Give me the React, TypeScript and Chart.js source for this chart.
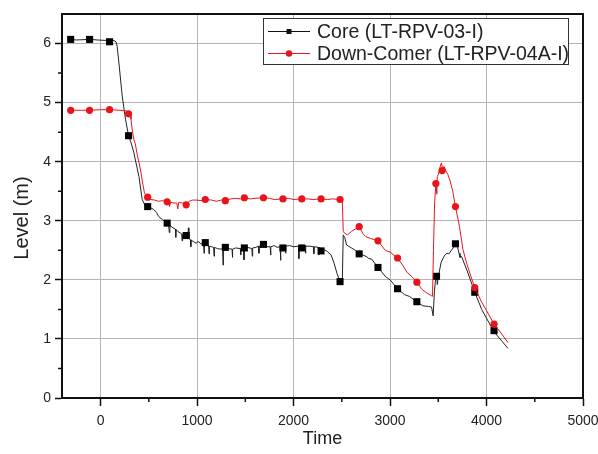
import React, { useEffect, useRef } from 'react';
import { Chart, registerables } from 'chart.js';

Chart.register(...registerables);

// ---------- data ----------
const seriesNames = ['Core (LT-RPV-03-I)', 'Down-Comer (LT-RPV-04A-I)'];
const xTitle = 'Time';
const yTitle = 'Level (m)';

const coreTime = [
  -310, -250, -114, -30, 93, 140, 160, 172, 190, 224, 259, 290, 320, 345, 397, 431, 460, 488, 520, 551, 580, 603, 640, 690,
  705, 712, 718, 750, 775, 779, 783, 800, 840, 845, 850, 887, 905, 910, 915, 931, 935, 940, 970, 990, 1010, 1040,
  1068, 1072, 1076, 1085, 1110, 1120, 1124, 1128, 1150, 1172, 1176, 1180, 1210, 1240, 1265, 1269, 1273, 1293, 1320,
  1362, 1366, 1370, 1400, 1448, 1452, 1456, 1482, 1486, 1490, 1520, 1568, 1572, 1576, 1610, 1637, 1641, 1645, 1688,
  1720, 1758, 1762, 1766, 1800, 1830, 1861, 1865, 1869, 1890, 1913, 1917, 1921, 1960, 2000, 2051, 2055, 2059, 2085,
  2100, 2120, 2124, 2128, 2170, 2206, 2210, 2214, 2258, 2262, 2266, 2285, 2300, 2320, 2350, 2390, 2420, 2450, 2482,
  2505, 2515, 2530, 2550, 2600, 2640, 2680, 2720, 2760, 2780, 2810, 2875, 2950, 3000, 3078, 3150, 3200, 3278, 3340,
  3400, 3430, 3447, 3460, 3475, 3485, 3490, 3500, 3530, 3568, 3590, 3610, 3640, 3660, 3678, 3700, 3715, 3725, 3740,
  3800, 3878, 3950, 4000, 4078, 4150, 4222,
];
const coreLevel = [
  6.07, 6.06, 6.07, 6.06, 6.05, 6.05, 6.03, 5.95, 5.67, 5.11, 4.71, 4.44, 4.30, 4.15, 3.75, 3.36, 3.26, 3.24, 3.22, 3.19, 3.14, 3.07, 3.02, 2.96,
  2.93, 2.80, 2.92, 2.88, 2.86, 2.72, 2.85, 2.82, 2.78, 2.66, 2.77, 2.75, 2.72, 2.88, 2.70, 2.68, 2.56, 2.67, 2.64, 2.62, 2.65, 2.61,
  2.60, 2.45, 2.60, 2.63, 2.58, 2.58, 2.44, 2.57, 2.56, 2.55, 2.40, 2.55, 2.53, 2.52, 2.53, 2.25, 2.53, 2.55, 2.53,
  2.52, 2.38, 2.52, 2.54, 2.53, 2.42, 2.54, 2.52, 2.34, 2.54, 2.55, 2.53, 2.40, 2.54, 2.55, 2.57, 2.45, 2.57, 2.60,
  2.56, 2.56, 2.42, 2.56, 2.58, 2.55, 2.56, 2.33, 2.56, 2.54, 2.57, 2.45, 2.57, 2.58, 2.56, 2.57, 2.36, 2.57, 2.54,
  2.58, 2.58, 2.45, 2.57, 2.57, 2.56, 2.44, 2.56, 2.55, 2.42, 2.55, 2.49, 2.53, 2.51, 2.48, 2.42, 2.28, 2.11, 1.97,
  1.95, 2.76, 2.72, 2.59, 2.54, 2.50, 2.44, 2.42, 2.39, 2.36, 2.35, 2.21, 2.06, 2.00, 1.85, 1.75, 1.72, 1.63, 1.56,
  1.55, 1.54, 1.39, 1.80, 2.07, 2.02, 1.92, 2.05, 2.30, 2.42, 2.45, 2.44, 2.51, 2.55, 2.61, 2.55, 2.45, 2.38, 2.40,
  2.15, 1.79, 1.50, 1.35, 1.12, 0.98, 0.84,
];

const coreMarkTime = [-310, -114, 93, 290, 488, 690, 887, 1085, 1293, 1490, 1688, 1890, 2085, 2285, 2482, 2680, 2875, 3078, 3278, 3482, 3678, 3878, 4078];
const coreMarkLevel = [6.07, 6.07, 6.03, 4.44, 3.24, 2.96, 2.75, 2.63, 2.55, 2.54, 2.60, 2.54, 2.54, 2.49, 1.97, 2.44, 2.21, 1.85, 1.63, 2.06, 2.61, 1.79, 1.14];

const dcTime = [
  -310, -200, -114, 0, 93, 200, 270, 290, 305, 315, 328, 345, 360, 380, 414, 440, 455, 488, 520, 560, 600, 640, 690,
  705, 715, 725, 760, 790, 800, 810, 850, 870, 887, 905, 920, 950, 1000, 1040, 1085, 1150, 1200, 1250, 1293, 1350,
  1400, 1450, 1490, 1550, 1600, 1688, 1750, 1800, 1890, 1950, 2000, 2085, 2150, 2200, 2285, 2350, 2400, 2482, 2505,
  2515, 2530, 2560, 2600, 2640, 2680, 2720, 2750, 2800, 2875, 2950, 3000, 3078, 3130, 3180, 3230, 3278, 3330, 3380,
  3430, 3440, 3450, 3462, 3475, 3485, 3490, 3500, 3520, 3533, 3545, 3560, 3580, 3600, 3620, 3650, 3678, 3720, 3756,
  3800, 3840, 3878, 3950, 4000, 4078, 4150, 4222,
];
const dcLevel = [
  4.87, 4.87, 4.87, 4.88, 4.88, 4.87, 4.86, 4.81, 4.78, 4.72, 4.54, 4.37, 4.30, 4.12, 3.86, 3.60, 3.47, 3.40, 3.36, 3.35, 3.33, 3.34, 3.32,
  3.30, 3.24, 3.31, 3.30, 3.30, 3.20, 3.31, 3.30, 3.29, 3.27, 3.31, 3.33, 3.35, 3.35, 3.34, 3.36, 3.35, 3.33, 3.35, 3.34, 3.37,
  3.38, 3.37, 3.39, 3.37, 3.38, 3.39, 3.38, 3.36, 3.37, 3.38, 3.36, 3.37, 3.37, 3.36, 3.37, 3.36, 3.37, 3.36, 3.36,
  2.82, 2.79, 2.76, 2.82, 2.86, 2.90, 2.78, 2.73, 2.70, 2.66, 2.50, 2.47, 2.37, 2.25, 2.12, 2.05, 1.96, 1.84, 1.78,
  1.73, 1.72, 2.50, 3.30, 3.63, 3.45, 3.75, 3.78, 3.92, 3.98, 3.86, 3.92, 3.84, 3.78, 3.69, 3.50, 3.24, 2.90, 2.51,
  2.25, 2.05, 1.87, 1.62, 1.48, 1.25, 1.10, 0.94,
];

const dcMarkTime = [-310, -114, 93, 290, 488, 690, 887, 1085, 1293, 1490, 1688, 1890, 2085, 2285, 2482, 2680, 2875, 3078, 3278, 3475, 3540, 3678, 3878, 4078];
const dcMarkLevel = [4.87, 4.87, 4.88, 4.81, 3.40, 3.32, 3.27, 3.36, 3.34, 3.39, 3.39, 3.37, 3.37, 3.37, 3.36, 2.90, 2.66, 2.37, 1.96, 3.63, 3.85, 3.24, 1.87, 1.25];

const xTickValues = [0, 1000, 2000, 3000, 4000, 5000];
const yTickValues = [0, 1, 2, 3, 4, 5, 6];
const xMinorTicks = [500, 1500, 2500, 3500, 4500];
const yMinorTicks = [0.5, 1.5, 2.5, 3.5, 4.5, 5.5];

// ---------- styling ----------
const FONT = "'Liberation Sans', Arial, sans-serif";
const BLACK = '#111111';
const RED = '#e8141c';
const TEXT = '#222222';

const zip = (xs: number[], ys: number[]) => xs.map((x, i) => ({ x, y: ys[i] }));

const framePlugin = {
  id: 'frameLegend',
  afterDraw(chart: any) {
    const { ctx, chartArea: a, scales } = chart;
    const x = scales.x;
    const y = scales.y;
    ctx.save();
    // minor ticks
    ctx.strokeStyle = BLACK;
    ctx.lineWidth = 1.5;
    ctx.beginPath();
    for (const v of xMinorTicks) {
      const px = x.getPixelForValue(v);
      ctx.moveTo(px, a.bottom);
      ctx.lineTo(px, a.bottom + 4);
    }
    for (const v of yMinorTicks) {
      const py = y.getPixelForValue(v);
      ctx.moveTo(a.left, py);
      ctx.lineTo(a.left - 4, py);
    }
    ctx.stroke();
    // frame
    ctx.lineWidth = 2;
    ctx.strokeRect(a.left, a.top, a.right - a.left, a.bottom - a.top);

    // y-axis title
    ctx.save();
    ctx.translate(22, (a.top + a.bottom) / 2 + 12);
    ctx.rotate(-Math.PI / 2);
    ctx.fillStyle = TEXT;
    ctx.font = `20px ${FONT}`;
    ctx.textAlign = 'center';
    ctx.textBaseline = 'middle';
    ctx.fillText(yTitle, 0, 0);
    ctx.restore();

    // legend
    const lx = a.right - 320;
    const ly = a.top + 4;
    const lw = 305;
    const lh = 46;
    ctx.fillStyle = '#ffffff';
    ctx.fillRect(lx, ly, lw, lh);
    ctx.strokeStyle = '#333333';
    ctx.lineWidth = 1;
    ctx.strokeRect(lx + 0.5, ly + 0.5, lw, lh);
    const rows = [ly + 13.5, ly + 35.5];
    const colors = [BLACK, RED];
    rows.forEach((ry, i) => {
      ctx.strokeStyle = colors[i];
      ctx.lineWidth = 1;
      ctx.beginPath();
      ctx.moveTo(lx + 5, ry);
      ctx.lineTo(lx + 47, ry);
      ctx.stroke();
      ctx.fillStyle = colors[i];
      if (i === 0) {
        ctx.fillRect(lx + 23.5, ry - 2.5, 5, 5);
      } else {
        ctx.beginPath();
        ctx.arc(lx + 26, ry, 3.2, 0, Math.PI * 2);
        ctx.fill();
      }
      ctx.fillStyle = TEXT;
      ctx.font = `19.5px ${FONT}`;
      ctx.textBaseline = 'middle';
      ctx.textAlign = 'left';
      ctx.fillText(seriesNames[i], lx + 54, ry + 1);
    });
    ctx.restore();
  },
};

export default function App() {
  const canvasRef = useRef<HTMLCanvasElement | null>(null);

  useEffect(() => {
    document.body.style.margin = '0';
    const canvas = canvasRef.current;
    if (!canvas) return;
    const chart = new Chart(canvas, {
      type: 'scatter',
      data: {
        datasets: [
          {
            label: seriesNames[1] + ' markers',
            data: zip(dcMarkTime, dcMarkLevel),
            showLine: false,
            pointStyle: 'circle',
            pointRadius: 3.6,
            pointBackgroundColor: RED,
            pointBorderColor: RED,
            pointBorderWidth: 0,
            order: 1,
          },
          {
            label: seriesNames[1],
            data: zip(dcTime, dcLevel),
            showLine: true,
            borderColor: RED,
            borderWidth: 1,
            pointRadius: 0,
            tension: 0,
            order: 2,
          },
          {
            label: seriesNames[0] + ' markers',
            data: zip(coreMarkTime, coreMarkLevel),
            showLine: false,
            pointStyle: 'rect',
            pointRadius: 5,
            pointBackgroundColor: '#000000',
            pointBorderColor: '#000000',
            pointBorderWidth: 0,
            order: 3,
          },
          {
            label: seriesNames[0],
            data: zip(coreTime, coreLevel),
            showLine: true,
            borderColor: '#222222',
            borderWidth: 1,
            pointRadius: 0,
            tension: 0,
            order: 4,
          },
        ],
      },
      options: {
        animation: false,
        responsive: false,
        devicePixelRatio: 1,
        events: [],
        layout: { padding: { left: 0, right: 15, top: 14, bottom: 0 } },
        plugins: {
          legend: { display: false },
          tooltip: { enabled: false },
        },
        scales: {
          x: {
            type: 'linear',
            min: -400,
            max: 5000,
            afterBuildTicks: (s: any) => {
              s.ticks = xTickValues.map((v) => ({ value: v }));
            },
            afterFit: (s: any) => {
              s.height = 56;
              s.paddingLeft = 0;
              s.paddingRight = 0;
            },
            ticks: {
              color: TEXT,
              font: { family: FONT, size: 14 },
              padding: 7,
              maxRotation: 0,
              autoSkip: false,
              callback: (v: any) => String(v),
            },
            grid: {
              color: '#b4b4b4',
              lineWidth: 1,
              tickColor: BLACK,
              tickLength: 8,
              tickWidth: 1.5,
            },
            border: { display: true, color: BLACK, width: 2 },
            title: {
              display: true,
              text: xTitle,
              color: TEXT,
              font: { family: FONT, size: 18 },
              padding: { top: 0, bottom: 4 },
            },
          },
          y: {
            type: 'linear',
            min: 0,
            max: 6.5,
            afterBuildTicks: (s: any) => {
              s.ticks = yTickValues.map((v) => ({ value: v }));
            },
            afterFit: (s: any) => {
              s.width = 62;
              s.paddingTop = 0;
              s.paddingBottom = 0;
            },
            ticks: {
              color: TEXT,
              font: { family: FONT, size: 14 },
              padding: 4,
              autoSkip: false,
              callback: (v: any) => String(v),
            },
            grid: {
              color: '#b4b4b4',
              lineWidth: 1,
              tickColor: BLACK,
              tickLength: 7,
              tickWidth: 1.5,
            },
            border: { display: true, color: BLACK, width: 2 },
            title: { display: false },
          },
        },
      },
      plugins: [framePlugin],
    });
    return () => chart.destroy();
  }, []);

  return (
    <div style={{ position: 'absolute', left: 0, top: 0, width: 598, height: 454, background: '#fff' }}>
      <canvas ref={canvasRef} width={598} height={454} />
    </div>
  );
}
